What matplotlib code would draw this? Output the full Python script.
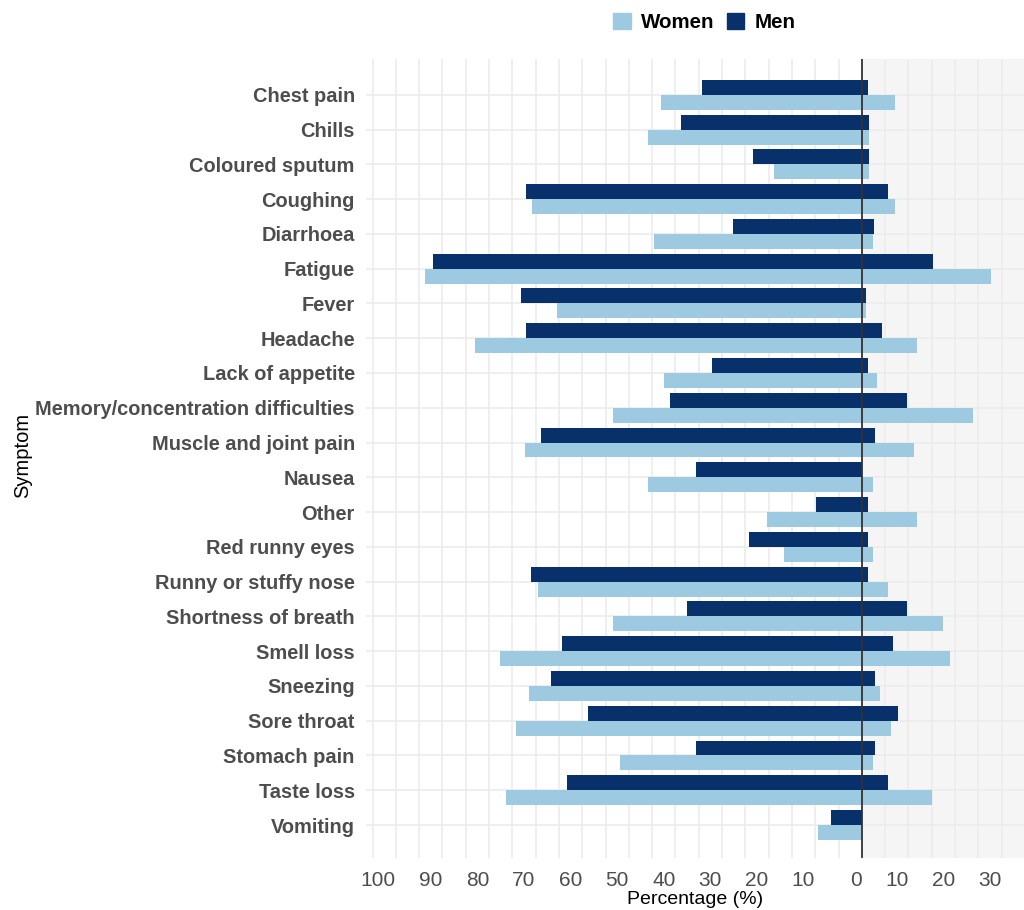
import numpy as np
import matplotlib.pyplot as plt
from matplotlib.patches import Patch

plt.rcParams['font.family'] = ['Liberation Sans', 'DejaVu Sans']

# ── data ──────────────────────────────────────────────────────────────────────
symptoms = ["Chest pain", "Chills", "Coloured sputum", "Coughing", "Diarrhoea",
            "Fatigue", "Fever", "Headache", "Lack of appetite",
            "Memory/concentration difficulties", "Muscle and joint pain",
            "Nausea", "Other", "Red runny eyes", "Runny or stuffy nose",
            "Shortness of breath", "Smell loss", "Sneezing", "Sore throat",
            "Stomach pain", "Taste loss", "Vomiting"]

# left side (plotted to the left of zero), right side (to the right)
men_left    = [34.4, 38.7, 23.3, 72.1, 27.6, 92.1, 73.2, 72.1, 32.2, 41.1, 68.8,
               35.5, 9.9, 24.3, 71.0, 37.6, 64.4, 66.6, 58.8, 35.6, 63.2, 6.6]
men_right   = [1.4, 1.5, 1.5, 5.6, 2.7, 15.3, 0.8, 4.3, 1.4, 9.7, 2.8,
               0.0, 1.4, 1.4, 1.4, 9.7, 6.7, 2.8, 7.7, 2.8, 5.6, 0.0]
women_left  = [43.2, 45.8, 18.8, 70.8, 44.5, 93.8, 65.5, 83.0, 42.5, 53.4, 72.2,
               45.8, 20.3, 16.8, 69.5, 53.4, 77.6, 71.5, 74.3, 51.9, 76.4, 9.3]
women_right = [7.1, 1.5, 1.5, 7.1, 2.3, 27.7, 0.8, 11.9, 3.2, 23.8, 11.1,
               2.3, 11.9, 2.3, 5.6, 17.5, 18.9, 4.0, 6.3, 2.3, 15.1, 0.0]

tick_vals = list(range(-100, 31, 10))
tick_labels = [str(abs(v)) for v in tick_vals]

WOMEN_C = "#9ecae1"
MEN_C   = "#08306b"

# ── plot ──────────────────────────────────────────────────────────────────────
fig = plt.figure(figsize=(10.24, 9.1), dpi=100)
ax = fig.add_axes([0.3574, 0.0571, 0.6426, 0.8781])

n = len(symptoms)
y = np.arange(n)[::-1]
h = 0.43
ml, mr = np.array(men_left), np.array(men_right)
wl, wr = np.array(women_left), np.array(women_right)

xmin, xmax = -106.4, 34.8
ax.axvspan(0, xmax, color="#f5f5f5", zorder=0, lw=0)
for gx in range(-105, 35, 5):
    ax.axvline(gx, color="#ebebeb", lw=1.1, zorder=1)
for gy in y:
    ax.axhline(gy, color="#ebebeb", lw=1.1, zorder=1)

ax.barh(y + h / 2, ml + mr, left=-ml, height=h, color=MEN_C, zorder=2)
ax.barh(y - h / 2, wl + wr, left=-wl, height=h, color=WOMEN_C, zorder=2)
ax.axvline(0, color="#333333", lw=1.3, zorder=3)

ax.set_xlim(xmin, xmax)
ax.set_ylim(-0.95, n - 1 + 1.03)
ax.set_yticks(y)
ax.set_yticklabels(symptoms, fontsize=14.4, fontweight="bold", color="#4d4d4d")
ax.set_xticks(tick_vals)
ax.set_xticklabels(tick_labels, fontsize=15, color="#4d4d4d", ha="right")
ax.tick_params(length=0)
ax.tick_params(axis="x", pad=9)
ax.tick_params(axis="y", pad=8)
for s in ax.spines.values():
    s.set_visible(False)

ax.set_xlabel("Percentage (%)", fontsize=14, labelpad=1)
fig.text(0.022, 0.5, "Symptom", rotation=90, fontsize=14.5, va="center", ha="center")

handles = [Patch(color=WOMEN_C, label="Women"), Patch(color=MEN_C, label="Men")]
fig.legend(handles=handles, loc="upper center", bbox_to_anchor=(0.688, 1.006), ncol=2,
           frameon=False, prop={"weight": "bold", "size": 14.8},
           handlelength=0.85, handleheight=0.85, handletextpad=0.5, columnspacing=0.6)

fig.savefig("out.png", dpi=100)
